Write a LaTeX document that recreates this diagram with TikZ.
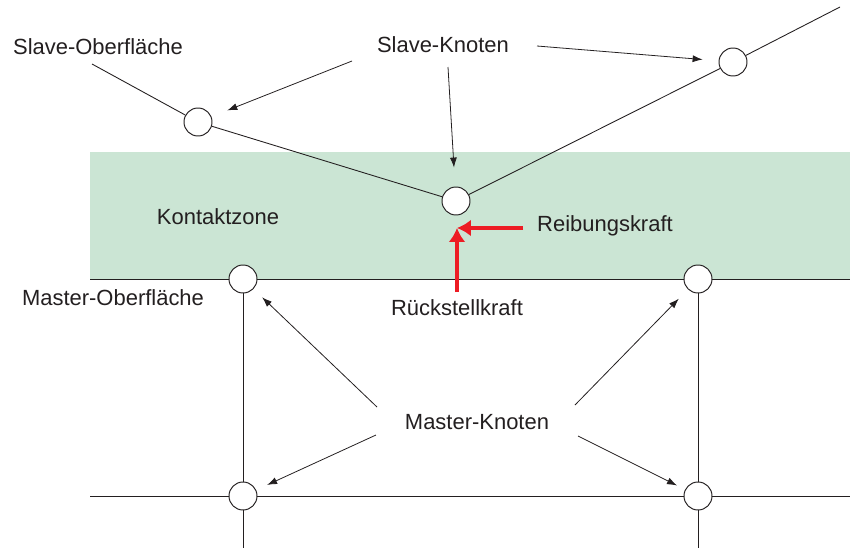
\documentclass[tikz,border=0pt]{standalone}
\usepackage{fontspec}
\setmainfont{Liberation Sans}
\usetikzlibrary{arrows.meta}
\definecolor{zone}{RGB}{203,229,212}
\definecolor{force}{RGB}{237,28,36}
\definecolor{txt}{RGB}{35,31,32}

\tikzset{
    knot/.style={circle, draw=txt, fill=white, line width=0.55pt, minimum size=0.56cm, inner sep=0pt},
    lbl/.style={font=\fontsize{12.5}{15}\selectfont, text=txt, inner sep=1pt},
    edge/.style={draw=txt, line width=0.5pt},
    pointer/.style={draw=txt, line width=0.45pt, -{Latex[length=2mm,width=1.4mm]}},
    forcearrow/.style={draw=force, line width=2.8pt, -{Latex[length=2.8mm,width=3.4mm]}}
}

\begin{document}
\begin{tikzpicture}[x=0.02cm, y=-0.02cm]
    \useasboundingbox (0,0) rectangle (850,548);

    % contact zone
    \fill[zone] (90,152) rectangle (850,279);

    % nodes
    \node[knot] (s1) at (198,122) {};
    \node[knot] (s2) at (456,201) {};
    \node[knot] (s3) at (733,62) {};
    \node[knot] (m1) at (243,279) {};
    \node[knot] (m2) at (698,279) {};
    \node[knot] (m3) at (243,496) {};
    \node[knot] (m4) at (698,496) {};

    % surfaces and mesh lines
    \coordinate (sl) at (92,64);
    \coordinate (sr) at (840,7);
    \draw[edge] (sl) -- (s1) -- (s2) -- (s3) -- (sr);
    \coordinate (ml) at (90,279);
    \coordinate (mr) at (850,279);
    \draw[edge] (ml) -- (m1) -- (m2) -- (mr);
    \coordinate (ll) at (90,496);
    \coordinate (lr) at (850,496);
    \draw[edge] (ll) -- (m3) -- (m4) -- (lr);
    \coordinate (b1) at (243,548);
    \coordinate (b2) at (698,548);
    \draw[edge] (m1) -- (m3) -- (b1);
    \draw[edge] (m2) -- (m4) -- (b2);

    % labels
    \node[lbl] (so) at (98,47) {Slave-Oberfläche};
    \node[lbl] (sk) at (443,45) {Slave-Knoten};
    \node[lbl] (kz) at (218,217) {Kontaktzone};
    \node[lbl] (rb) at (605,226) {Reibungskraft};
    \node[lbl] (mo) at (113,298) {Master-Oberfläche};
    \node[lbl] (rs) at (457,308) {Rückstellkraft};
    \node[lbl] (mk) at (477,422) {Master-Knoten};

    % pointers from the labels
    \coordinate (p1) at (352,61);
    \coordinate (p2) at (448,67);
    \coordinate (p3) at (537,46);
    \draw[pointer, shorten >=0.34cm] (p1) -- (s1);
    \draw[pointer, shorten >=0.38cm] (p2) -- (s2);
    \draw[pointer, shorten >=0.32cm] (p3) -- (s3);
    \coordinate (q1) at (377,407);
    \coordinate (q2) at (575,405);
    \coordinate (q3) at (376,435);
    \coordinate (q4) at (578,436);
    \draw[pointer, shorten >=0.24cm] (q1) -- (m1);
    \draw[pointer, shorten >=0.26cm] (q2) -- (m2);
    \draw[pointer, shorten >=0.24cm] (q3) -- (m3);
    \draw[pointer, shorten >=0.18cm] (q4) -- (m4);

    % forces
    \coordinate (fp) at (457,228);
    \coordinate (f1) at (523,228);
    \coordinate (f2) at (457,292);
    \draw[forcearrow] (f1) -- (fp);
    \draw[forcearrow] (f2) -- (fp);
\end{tikzpicture}
\end{document}
